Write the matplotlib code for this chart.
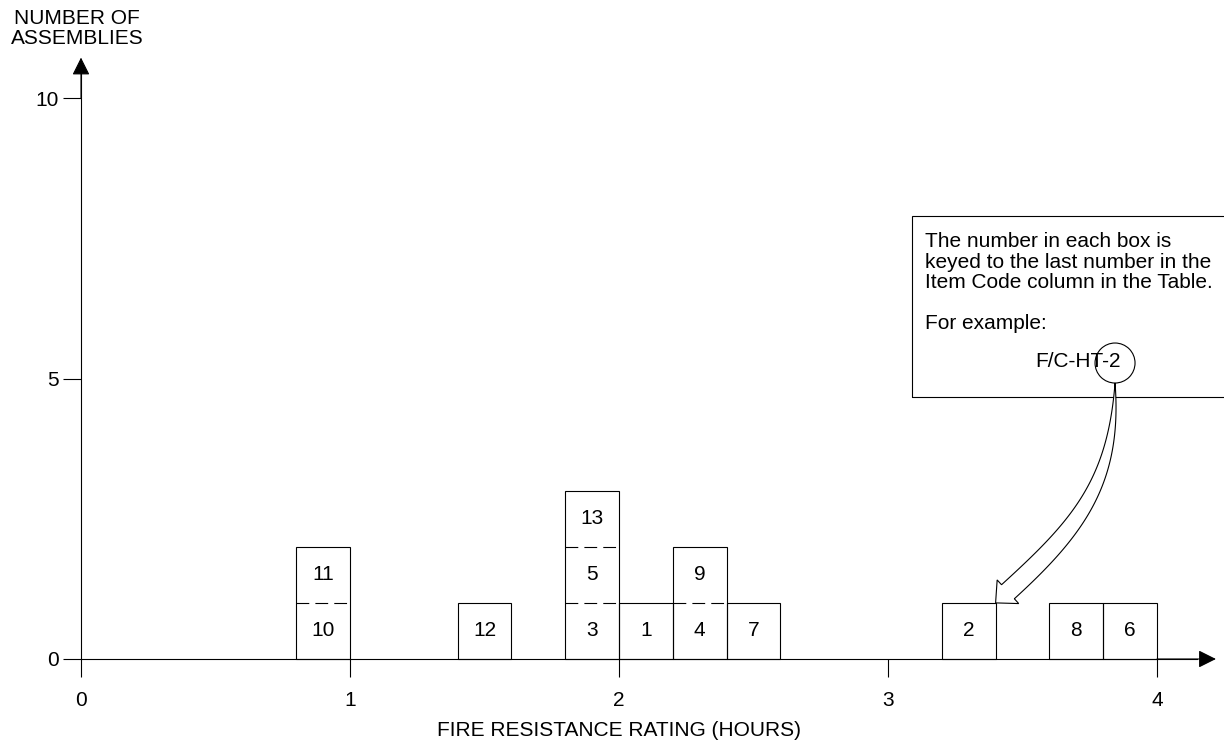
import matplotlib
matplotlib.use("Agg")
import numpy as np
import matplotlib.pyplot as plt
from matplotlib.patches import Rectangle, Ellipse, Polygon

plt.rcParams["font.family"] = ["Liberation Sans", "DejaVu Sans"]

# item code number and the rating bin (centre, hours) it sits in, bottom to top
item_codes = [10, 11, 12, 3, 5, 13, 1, 4, 9, 7, 2, 8, 6]
item_ratings = [0.9, 0.9, 1.5, 1.9, 1.9, 1.9, 2.1, 2.3, 2.3, 2.5, 3.3, 3.7, 3.9]
bin_width = 0.2

x_ticks = [0, 1, 2, 3, 4]
y_ticks = [0, 5, 10]

note_lines = "The number in each box is\nkeyed to the last number in the\nItem Code column in the Table.\n\nFor example:"
example_code = "F/C-HT-2"
example_item = 2

fs = 15
lw = 0.8
W, H = 1224, 745

fig = plt.figure(figsize=(W / 100, H / 100), dpi=100)
ax = fig.add_axes([0, 0, 1, 1])
ax.set_xlim(-81 / 269, (W - 81) / 269)
ax.set_ylim(-(H - 659) / 56.1, 659 / 56.1)

# stack the items per bin
columns = {}
for code, r in zip(item_codes, item_ratings):
    columns.setdefault(r, []).append(code)

for r, codes in columns.items():
    n = len(codes)
    ax.bar(r, n, width=bin_width, bottom=0, fill=False, edgecolor="black", linewidth=lw, zorder=3)
    for level in range(1, n):
        ax.hlines(level, r - bin_width / 2, r + bin_width / 2, colors="black",
                  linewidth=lw, linestyles=(0, (11.5, 5.5)), zorder=3)
    for level, code in enumerate(codes):
        ax.text(r, level + 0.5, str(code), ha="center", va="center", fontsize=fs, zorder=4)

# axes
for s in ["top", "right"]:
    ax.spines[s].set_visible(False)
ax.spines["left"].set_position(("data", 0))
ax.spines["bottom"].set_position(("data", 0))
ax.spines["left"].set_bounds(0, 10.5)
ax.spines["bottom"].set_bounds(0, 4.15)
ax.spines["left"].set_linewidth(lw)
ax.spines["bottom"].set_linewidth(lw)
ax.set_xticks(x_ticks)
ax.set_yticks(y_ticks)
ax.set_xticklabels([str(t) for t in x_ticks])
ax.set_yticklabels([str(t) for t in y_ticks])
ax.tick_params(axis="both", direction="out", length=13, width=lw, labelsize=fs, color="black")
ax.tick_params(axis="x", pad=10)
ax.tick_params(axis="y", pad=3)

ax.annotate("", xy=(0, 10.72), xytext=(0, 10.0),
            arrowprops=dict(arrowstyle="-|>,head_length=0.4,head_width=0.2", mutation_scale=27,
                            color="black", lw=lw, shrinkA=0, shrinkB=0))
ax.annotate("", xy=(4.219, 0), xytext=(4.0, 0),
            arrowprops=dict(arrowstyle="-|>,head_length=0.4,head_width=0.2", mutation_scale=27,
                            color="black", lw=lw, shrinkA=0, shrinkB=0))

fig.text(77 / W, 1 - 28.5 / H, "NUMBER OF\nASSEMBLIES", ha="center", va="center",
         fontsize=fs, linespacing=1.05)
fig.text(619 / W, 1 - 730 / H, "FIRE RESISTANCE RATING (HOURS)", ha="center", va="center",
         fontsize=fs)

# note box
ax.add_patch(Rectangle((3.089, 4.67), 2.0, 7.897 - 4.67, fill=False, edgecolor="black",
                       linewidth=lw, zorder=2))
ax.text(3.138, 7.61, note_lines, ha="left", va="top", fontsize=fs, linespacing=1.1, zorder=4)
ax.text(3.706, 5.31, example_code, ha="center", va="center", fontsize=fs, zorder=4)
circle_c = (3.844, 5.276)
circle_r = 20  # px
ax.add_patch(Ellipse(circle_c, 2 * circle_r / 269, 2 * circle_r / 56.1, fill=False,
                     edgecolor="black", linewidth=lw, zorder=4))

# hollow curved arrow from the circle down to the box of the example item (built in pixels)
to_px = ax.transData.transform
to_data = ax.transData.inverted().transform
r_ex = item_ratings[item_codes.index(example_item)]
start = to_px(circle_c) - np.array([0, circle_r])
tip = to_px((r_ex + bin_width / 2, len(columns[r_ex])))
p1 = start - np.array([0, 105])
p2 = tip + np.array([78, 70])

t = np.linspace(0, 1, 500)[:, None]
curve = (1 - t) ** 3 * start + 3 * (1 - t) ** 2 * t * p1 + 3 * (1 - t) * t ** 2 * p2 + t ** 3 * tip
seg = np.r_[0, np.cumsum(np.hypot(*np.diff(curve, axis=0).T))]
head_len, head_w, tail_w = 17, 32, 19
base_i = np.searchsorted(seg, seg[-1] - head_len)
tang = np.gradient(curve, axis=0)
tang /= np.hypot(tang[:, 0], tang[:, 1])[:, None]
norm = np.c_[-tang[:, 1], tang[:, 0]]
u = seg[:base_i + 1] / seg[base_i]
half = tail_w / 2 * (1 - (1 - u) ** 2)
left = curve[:base_i + 1] + norm[:base_i + 1] * half[:, None]
right = curve[:base_i + 1] - norm[:base_i + 1] * half[:, None]
b, nb = curve[base_i], norm[base_i]
outline = np.vstack([left, b + nb * head_w / 2, tip, b - nb * head_w / 2, right[::-1]])
ax.add_patch(Polygon(to_data(outline), closed=True, facecolor="white", edgecolor="black",
                     linewidth=lw, zorder=5))

fig.savefig("out.png", dpi=100)
